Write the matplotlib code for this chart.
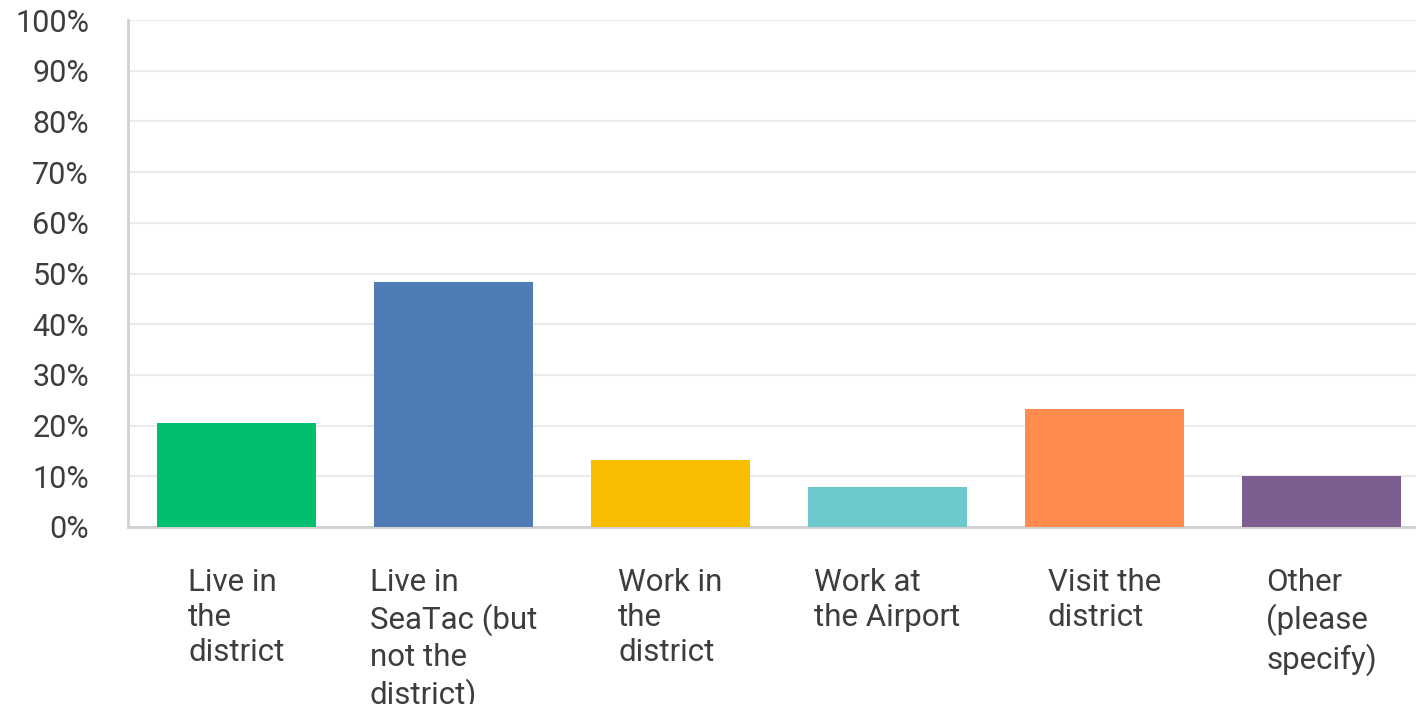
import numpy as np
import matplotlib.pyplot as plt

categories = ["Live in\nthe\ndistrict", "Live in\nSeaTac (but\nnot the\ndistrict)",
              "Work in\nthe\ndistrict", "Work at\nthe Airport", "Visit the\ndistrict",
              "Other\n(please\nspecify)"]
values = [20.5, 48.3, 13.2, 7.9, 23.3, 10.1]
colors = ["#00bf6f", "#507cb6", "#f9be00", "#6bc8cd", "#ff8b4f", "#7d5e90"]
yticks = [0, 10, 20, 30, 40, 50, 60, 70, 80, 90, 100]

plt.rcParams['font.family'] = ['Roboto', 'DejaVu Sans']

fig = plt.figure(figsize=(14.16, 7.04), dpi=100)
ax = fig.add_axes([128 / 1416, 1 - 527 / 704, 1302 / 1416, 507 / 704])

x = np.arange(len(values))
ax.bar(x, values, width=0.735, color=colors, zorder=3)

ax.set_xlim(-0.5, 5.5)
ax.set_ylim(0, 100)
ax.set_yticks(yticks)
ax.set_yticklabels([f"{t}%" for t in yticks], fontsize=22, color="#3d3d3d")
ax.tick_params(axis='y', length=0, pad=28)
ax.set_xticks([])

ax.grid(axis='y', color="#ebebeb", linewidth=1.5, zorder=0)
for s in ["top", "right"]:
    ax.spines[s].set_visible(False)
for s in ["left", "bottom"]:
    ax.spines[s].set_color("#d0d0d0")
    ax.spines[s].set_linewidth(2)

# category labels: block centred under bar, lines left aligned
# (the last line of the second label runs to the bottom edge, as in the original)
for i, lab in enumerate(categories):
    ax.text(i, -8.0, lab, ha='center', va='top', multialignment='left',
            fontsize=22.5, color="#3d3d3d", linespacing=1.28)

fig.savefig("out.png", dpi=100)
